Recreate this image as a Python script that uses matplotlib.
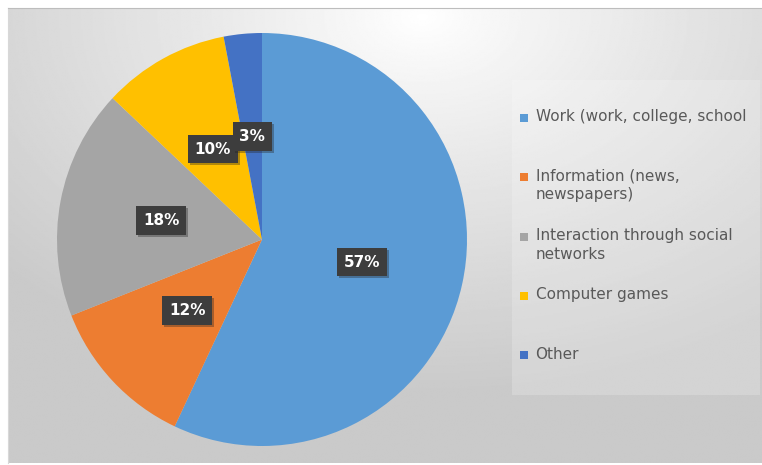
import matplotlib

matplotlib.use("Agg")
import matplotlib.pyplot as plt
import matplotlib.patheffects as pe
import numpy as np

categories = [
    "Work (work, college, school",
    "Information (news,\nnewspapers)",
    "Interaction through social\nnetworks",
    "Computer games",
    "Other",
]
shares = [57, 12, 18, 10, 3]
colors = ["#5B9BD5", "#ED7D31", "#A5A5A5", "#FFC000", "#4472C4"]

W, H = 762, 465
fig = plt.figure(figsize=(W / 100, H / 100), dpi=100)
fig.patch.set_facecolor("white")

# chart area with a soft radial gray gradient
bg = fig.add_axes([8 / W, 2 / H, 754 / W, 455 / H])
yy, xx = np.mgrid[0:1:300j, 0:1:500j]
dist = np.sqrt(((xx - 0.55) / 1.0) ** 2 + ((yy - 0.02) / 1.1) ** 2)
shade = np.clip(1.0 - 0.27 * dist ** 0.9, 0.79, 1)
bg.imshow(shade, cmap="gray", vmin=0, vmax=1, aspect="auto", extent=[0, 1, 1, 0])
bg.set_xticks([])
bg.set_yticks([])
for s in bg.spines.values():
    s.set_visible(False)
bg.spines["top"].set_visible(True)
bg.spines["top"].set_color("#bdbdbd")
bg.spines["left"].set_visible(True)
bg.spines["left"].set_color("#d8d8d8")

# pie
ax = fig.add_axes([57 / W, 19 / H, 410 / W, 413 / H])
wedges, _, autotexts = ax.pie(
    shares,
    colors=colors,
    startangle=90,
    counterclock=False,
    autopct=lambda p: f"{p:.0f}%",
    pctdistance=0.5,
    radius=1.0,
    wedgeprops=dict(linewidth=0),
    textprops=dict(color="white", fontsize=11, fontweight="bold"),
)
ax.set_xlim(-1.0, 1.0)
ax.set_ylim(-1.0, 1.0)
ax.set_aspect("auto")
for t in autotexts:
    t.set_bbox(dict(boxstyle="square,pad=0.45", facecolor="#3d3d3d", edgecolor="none"))
    t.get_bbox_patch().set_path_effects(
        [pe.SimplePatchShadow(offset=(1.5, -1.5), shadow_rgbFace="#222222", alpha=0.35), pe.Normal()]
    )

# legend drawn as stacked entries
leg = fig.add_axes([512 / W, 70 / H, 248 / W, 315 / H])
leg.set_xlim(0, 1)
leg.set_ylim(0, 1)
leg.axis("off")
leg.add_patch(plt.Rectangle((0, 0), 1, 1, facecolor="white", alpha=0.2, edgecolor="none"))
top = 108
step = 59.3
for i, (name, c) in enumerate(zip(categories, colors)):
    y_px = top + i * step
    y = 1 - (y_px - 70) / 315
    leg.scatter([0.05], [y], marker="s", s=30, color=c, linewidths=0)
    leg.text(0.095, y + 0.027, name, fontsize=11, color="#595959", va="top", ha="left",
             linespacing=1.3)

fig.savefig("out.png", dpi=100)
